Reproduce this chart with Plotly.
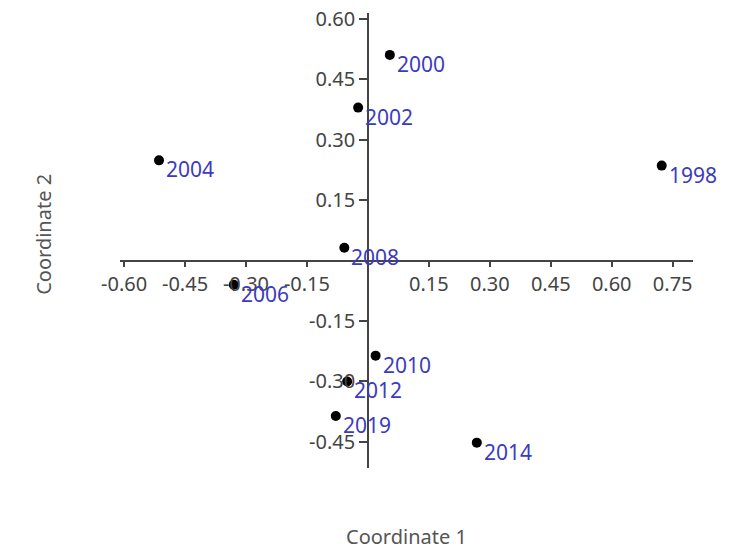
import plotly.graph_objects as go

years = ["1998", "2000", "2002", "2004", "2006", "2008", "2010", "2012", "2019", "2014"]
coord1 = [0.723, 0.054, -0.024, -0.514, -0.330, -0.058, 0.019, -0.051, -0.079, 0.268]
coord2 = [0.236, 0.511, 0.380, 0.249, -0.060, 0.032, -0.236, -0.300, -0.386, -0.452]

x_ticks = [-0.60, -0.45, -0.30, -0.15, 0.15, 0.30, 0.45, 0.60, 0.75]
x_tick_text = ["-0.60", "-0.45", "-0.30", "-0.15", "0.15", "0.30", "0.45", "0.60", "0.75"]
y_ticks = [0.60, 0.45, 0.30, 0.15, -0.15, -0.30, -0.45]
y_tick_text = ["0.60", "0.45", "0.30", "0.15", "-0.15", "-0.30", "-0.45"]

x_range = [-0.61, 0.80]
y_range = [-0.515, 0.615]

FONT = "Noto Sans"
LABEL_COLOR = "#3b3bbf"
AXIS_COLOR = "#444444"

fig = go.Figure()
fig.add_trace(go.Scatter(
    x=coord1, y=coord2, mode="markers",
    marker=dict(color="black", size=10),
    hoverinfo="skip", showlegend=False,
))

for yr, xv, yv in zip(years, coord1, coord2):
    fig.add_annotation(
        x=xv, y=yv, xref="x", yref="y", text=yr, showarrow=False,
        xanchor="left", yanchor="middle", xshift=5, yshift=-9,
        font=dict(family=FONT, size=21, color=LABEL_COLOR),
    )

x_pos = (0 - y_range[0]) / (y_range[1] - y_range[0])
y_pos = (0 - x_range[0]) / (x_range[1] - x_range[0])

# the page body adds an 8px offset, so margins are compensated
fig.update_layout(
    width=738, height=552,
    margin=dict(l=112, r=53, t=5, b=91.5, autoexpand=False),
    paper_bgcolor="white", plot_bgcolor="white",
    font=dict(family=FONT, color="#444444"),
    xaxis=dict(
        range=x_range, anchor="free", position=x_pos, automargin=False,
        showline=True, linecolor=AXIS_COLOR, linewidth=1.5,
        ticks="outside", ticklen=6, tickcolor=AXIS_COLOR, tickwidth=1.5,
        tickvals=x_ticks, ticktext=x_tick_text,
        tickfont=dict(family=FONT, size=20, color="#444444"),
        ticklabeloverflow="allow",
        showgrid=False, zeroline=False,
    ),
    yaxis=dict(
        range=y_range, anchor="free", position=y_pos, automargin=False,
        showline=True, linecolor=AXIS_COLOR, linewidth=1.5,
        ticks="outside", ticklen=8, tickcolor=AXIS_COLOR, tickwidth=1.5,
        tickvals=y_ticks, ticktext=y_tick_text,
        tickfont=dict(family=FONT, size=20, color="#444444"),
        ticklabeloverflow="allow",
        showgrid=False, zeroline=False,
    ),
)

fig.add_annotation(
    x=0.50, y=-0.15, xref="paper", yref="paper", text="Coordinate 1",
    showarrow=False, xanchor="center", yanchor="middle",
    font=dict(family=FONT, size=20, color="#555555"),
)
fig.add_annotation(
    x=-0.134, y=0.513, xref="paper", yref="paper", text="Coordinate 2",
    showarrow=False, xanchor="center", yanchor="middle", textangle=-90,
    font=dict(family=FONT, size=20, color="#555555"),
)

fig.write_html("out.html")
